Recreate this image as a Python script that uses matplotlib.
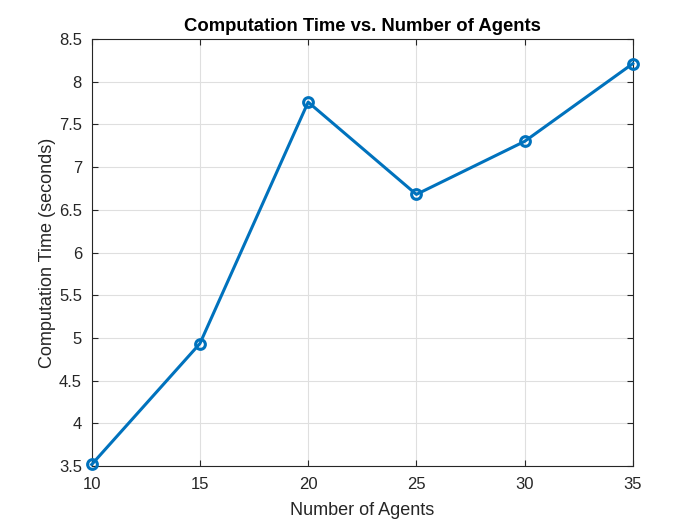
"""Computation time vs. number of agents (MATLAB-style line plot)."""

import matplotlib
matplotlib.use("Agg")
import matplotlib.pyplot as plt

plt.rcParams["font.family"] = ["Liberation Sans", "DejaVu Sans"]

# ── Data ──────────────────────────────────────────────────
num_agents = [10, 15, 20, 25, 30, 35]
comp_time = [3.52, 4.935, 7.76, 6.68, 7.30, 8.21]

# ── Plot ──────────────────────────────────────────────────
fig = plt.figure(figsize=(7, 5.25), dpi=100)
ax = fig.add_axes([0.131, 0.112, 0.773, 0.814])

ax.plot(num_agents, comp_time, "-o", color="#0072BD", linewidth=2.2,
        markersize=7, markerfacecolor="none", markeredgewidth=2.2, clip_on=False,
        zorder=5)

ax.set_xlim(10, 35)
ax.set_ylim(3.5, 8.5)
ax.set_xticks(num_agents)
ax.set_yticks([3.5, 4, 4.5, 5, 5.5, 6, 6.5, 7, 7.5, 8, 8.5])
ax.set_yticklabels(["3.5", "4", "4.5", "5", "5.5", "6", "6.5", "7", "7.5", "8", "8.5"])

ax.grid(True, color="#dfdfdf", linewidth=0.8)
ax.set_axisbelow(True)
for s in ax.spines.values():
    s.set_color("#262626")
    s.set_linewidth(0.8)
ax.tick_params(direction="in", length=4, width=0.8, colors="#262626",
               labelsize=12, top=True, right=True)
ax.tick_params(axis="x", pad=8)
ax.tick_params(axis="y", pad=7)

ax.set_xlabel("Number of Agents", fontsize=13, color="#262626", labelpad=7)
ax.set_ylabel("Computation Time (seconds)", fontsize=13, color="#262626", labelpad=2)
ax.set_title("Computation Time vs. Number of Agents", fontsize=13.3,
             fontweight="bold", pad=6)

plt.savefig("out.png", dpi=100)
